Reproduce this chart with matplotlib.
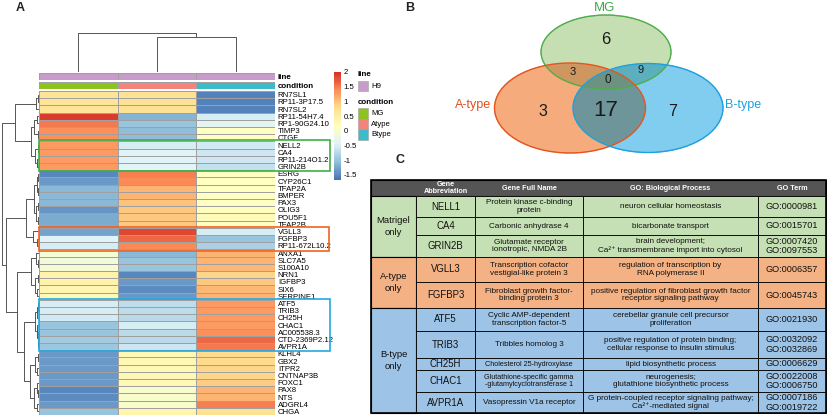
import matplotlib
matplotlib.use("Agg")
import matplotlib.pyplot as plt
import numpy as np
from matplotlib.colors import LinearSegmentedColormap, to_rgba
from matplotlib.patches import Ellipse, Rectangle

plt.rcParams["font.family"] = ["Liberation Sans", "DejaVu Sans"]

W, H = 827, 420

# ---------------- data: panel A (heatmap) ----------------
GENES = ["RN7SL1", "RP11-3P17.5", "RN7SL2", "RP11-54H7.4", "RP1-90G24.10", "TIMP3", "CTGF",
         "NELL2", "CA4", "RP11-214O1.2", "GRIN2B", "ESRG", "CYP26C1", "TFAP2A", "BMPER",
         "PAX3", "OLIG3", "POU5F1", "TFAP2B", "VGLL3", "FGFBP3", "RP11-672L10.2", "ANXA1",
         "SLC7A5", "S100A10", "NRN1", "IGFBP3", "SIX6", "SERPINE1", "ATF5", "TRIB3", "CH25H",
         "CHAC1", "AC005538.3", "CTD-2369P2.12", "AVPR1A", "KLHL4", "GBX2", "ITPR2",
         "CNTNAP3B", "FOXC1", "PAX8", "NTS", "ADGRL4", "CHGA"]
MG_Z = [0.7, 0.7, 0.7, 1.9, 1.5, 1.35, 1.35, 1.3, 1.3, 1.3, 1.3, -1.5, -1.35, -1.1, -1.1,
        -1.1, -1.4, -1.2, -1.2, -1.3, -0.45, -0.5, -0.05, -0.1, -0.05, 0.4, 0.4, 0.35, 0.25,
        -0.5, -0.5, -0.55, -1.0, -1.0, -0.9, -0.95, -1.35, -1.35, -1.35, -1.35, -1.35, -1.5,
        -1.45, -1.35, -1.0]
ATYPE_Z = [0.75, 0.75, 0.75, -1.15, -1.0, -1.05, -1.05, -0.5, -0.45, -0.45, -0.4, 1.45, 1.4,
           1.1, 1.1, 1.0, 0.95, 0.95, 0.95, 1.85, 1.6, 1.4, -1.1, -1.0, -1.0, -1.5, -1.35,
           -1.45, -1.35, -0.7, -0.7, -0.75, -0.5, -0.75, -0.75, -0.6, 0.3, 0.3, 0.3, 0.3, 0.3,
           0.0, 0.05, 0.05, 0.35]
BTYPE_Z = [-1.55, -1.55, -1.55, -0.5, -0.35, 0.15, 0.15, -0.55, -0.6, -0.6, -0.65, 0.15,
           0.15, 0.15, 0.15, 0.15, 0.2, 0.25, 0.15, -0.5, -1.0, -0.85, 1.1, 1.1, 1.05, 0.85,
           0.95, 1.05, 1.1, 1.3, 1.3, 1.3, 1.3, 1.35, 1.6, 1.5, 0.8, 0.8, 0.85, 0.85, 0.9, 1.1,
           1.1, 1.45, 0.75]
CONDITIONS = ["MG", "Atype", "Btype"]
CONDITION_COLORS = ["#8DC21F", "#F4837D", "#3CBCC8"]
LINE_NAME = "H9"
LINE_COLOR = "#C89BCB"

# dendrograms as (height, left, right); leaves are row / column indices
ROW_TREE = (1.0,
            (0.63,
             (0.08, (0.03, 0, 1), 2),
             (0.21,
              (0.13, (0.05, 3, 4), (0.04, 5, 6)),
              (0.10, (0.04, 7, 8), (0.05, 9, 10)))),
            (0.87,
             (0.34,
              (0.13, (0.06, (0.03, 11, 12), (0.04, 13, 14)),
               (0.07, (0.03, 15, 16), (0.04, 17, 18))),
              (0.16, 19, (0.05, 20, 21))),
             (0.60,
              (0.21, (0.08, 22, (0.04, 23, 24)), (0.10, (0.04, 25, 26), (0.05, 27, 28))),
              (0.39,
               (0.10, (0.05, (0.02, 29, 30), 31), (0.06, 32, (0.03, 33, (0.02, 34, 35)))),
               (0.24, (0.10, (0.04, 36, 37), (0.05, 38, 39)),
                (0.14, (0.06, 40, (0.03, 41, 42)), (0.05, 43, 44)))))))
COL_TREE = (1.0, 0, (0.9, 1, 2))

# ---------------- data: panel B (venn) ----------------
VENN_SETS = ["MG", "A-type", "B-type"]
VENN_COUNTS = {"MG": 6, "A": 3, "B": 7, "MG&A": 3, "MG&B": 9, "A&B": 17, "all": 0}

# ---------------- data: panel C (table) ----------------
TABLE_HEADER = ["", "Gene\nAbbreviation", "Gene Full Name", "GO: Biological Process", "GO Term"]
GROUPS = ["Matrigel\nonly", "A-type\nonly", "B-type\nonly"]
GROUP_SIZES = [3, 2, 5]
GENE_ABBR = ["NELL1", "CA4", "GRIN2B", "VGLL3", "FGFBP3", "ATF5", "TRIB3", "CH25H", "CHAC1",
             "AVPR1A"]
GENE_NAME = ["Protein kinase c-binding\nprotein", "Carbonic anhydrase 4",
             "Glutamate receptor\nionotropic, NMDA 2B",
             "Transcription cofactor\nvestigial-like protein 3",
             "Fibroblast growth factor-\nbinding protein 3",
             "Cyclic AMP-dependent\ntranscription factor-5", "Tribbles homolog 3",
             "Cholesterol 25-hydroxylase",
             "Glutathione-specific gamma\n-glutamylcyclotransferase 1",
             "Vasopressin V1a receptor"]
GO_PROCESS = ["neuron cellular homeostasis", "bicarbonate transport",
              "brain development;\nCa²⁺ transmembrane import into cytosol",
              "regulation of transcription by\nRNA polymerase II",
              "positive regulation of fibroblast growth factor\nreceptor signaling pathway",
              "cerebellar granule cell precursor\nproliferation",
              "positive regulation of protein binding;\ncellular response to insulin stimulus",
              "lipid biosynthetic process",
              "neurogenesis;\nglutathione biosynthetic process",
              "G protein-coupled receptor signaling pathway;\nCa²⁺-mediated signal"]
GO_TERM = ["GO:0000981", "GO:0015701", "GO:0007420\nGO:0097553", "GO:0006357", "GO:0045743",
           "GO:0021930", "GO:0032092\nGO:0032869", "GO:0006629", "GO:0022008\nGO:0006750",
           "GO:0007186\nGO:0019722"]
GROUP_COLORS = ["#C5E0B4", "#F4B183", "#9DC3E6"]


fig = plt.figure(figsize=(W / 100, H / 100), dpi=100)


def px_axes(x0, y0, x1, y1, **kw):
    return fig.add_axes([x0 / W, 1 - y1 / H, (x1 - x0) / W, (y1 - y0) / H], **kw)


def draw_tree(ax, node, horizontal):
    """Draw a nested (height, left, right) tree; return (leaf position, height)."""
    if isinstance(node, int):
        return node + 0.5, 0.0
    h, left, right = node
    p1, h1 = draw_tree(ax, left, horizontal)
    p2, h2 = draw_tree(ax, right, horizontal)
    xs = [h1, h, h, h2]
    ys = [p1, p1, p2, p2]
    if horizontal:
        ax.plot(xs, ys, color="#555555", lw=0.7)
    else:
        ax.plot(ys, xs, color="#555555", lw=0.7)
    return (p1 + p2) / 2, h


# ---- heatmap ----
pal = ["#4575B4", "#91BFDB", "#E0F3F8", "#FFFFBF", "#FEE090", "#FC8D59", "#D73027"]
cmap = LinearSegmentedColormap.from_list("pheat", pal, N=100)
vals = np.column_stack([MG_Z, ATYPE_Z, BTYPE_Z])

ax_hm = px_axes(39, 91, 275, 415)
mesh = ax_hm.pcolormesh(vals, cmap=cmap, vmin=-1.67, vmax=2.0, edgecolors="#a0a0a0", lw=0.4)
ax_hm.set_ylim(len(GENES), 0)
ax_hm.set_xlim(0, 3)
ax_hm.set_xticks([])
ax_hm.yaxis.tick_right()
ax_hm.set_yticks(np.arange(len(GENES)) + 0.5)
ax_hm.set_yticklabels(GENES, fontsize=5.6)
ax_hm.tick_params(axis="y", length=0, pad=2)
for s in ax_hm.spines.values():
    s.set_visible(False)

# annotation bars
ax_line = px_axes(39, 73, 275, 80)
ax_line.pcolormesh(np.zeros((1, 3)), cmap=LinearSegmentedColormap.from_list("l", [LINE_COLOR, LINE_COLOR]),
                   edgecolors="#a0a0a0", lw=0.4)
ax_cond = px_axes(39, 82, 275, 89)
ax_cond.pcolormesh(np.arange(3).reshape(1, 3),
                   cmap=LinearSegmentedColormap.from_list("c", CONDITION_COLORS, N=3),
                   edgecolors="#a0a0a0", lw=0.4)
for ax, lab in [(ax_line, "line"), (ax_cond, "condition")]:
    ax.set_xlim(0, 3)
    ax.set_xticks([])
    ax.yaxis.tick_right()
    ax.set_yticks([0.5])
    ax.set_yticklabels([lab], fontsize=5.8, fontweight="bold")
    ax.tick_params(axis="y", length=0, pad=2)
    for s in ax.spines.values():
        s.set_visible(False)

# dendrograms
ax_rd = px_axes(0, 91, 39, 415)
draw_tree(ax_rd, ROW_TREE, horizontal=True)
ax_rd.set_xlim(1.04, 0)
ax_rd.set_ylim(len(GENES), 0)
ax_rd.axis("off")

ax_cd = px_axes(39, 30, 275, 72)
draw_tree(ax_cd, COL_TREE, horizontal=False)
ax_cd.set_xlim(0, 3)
ax_cd.set_ylim(0, 1.077)
ax_cd.axis("off")

# colour bar
cax = px_axes(334, 72, 341, 180)
cb = fig.colorbar(mesh, cax=cax, ticks=[-1.5, -1, -0.5, 0, 0.5, 1, 1.5, 2])
cb.ax.set_yticklabels(["-1.5", "-1", "-0.5", "0", "0.5", "1", "1.5", "2"])
cb.ax.tick_params(labelsize=5.6, length=0, pad=2)
cb.outline.set_visible(False)

# ---- overlay in pixel coordinates ----
ov = fig.add_axes([0, 0, 1, 1], zorder=5)
ov.axis("off")
ov.patch.set_alpha(0)

# ---- Venn (region colours blended like the original) ----
ell = {"MG": (606, 52, 130, 74), "A": (570, 108, 151, 90), "B": (648, 108, 150, 89)}
region_colors = {"MG": "#C5DFB2", "A": "#F5AC7C", "B": "#80CDEF", "MG&A": "#CE9762",
                 "MG&B": "#5DB0BE", "A&B": "#6E979B", "all": "#6E9282"}
gx, gy = np.meshgrid(np.arange(420, 827, 0.5) + 0.25, np.arange(0, 175, 0.5) + 0.25)
inside = {k: ((gx - cx) / (w / 2)) ** 2 + ((gy - cy) / (h / 2)) ** 2 <= 1
          for k, (cx, cy, w, h) in ell.items()}
img = np.zeros(gx.shape + (4,))
masks = {"MG": inside["MG"] & ~inside["A"] & ~inside["B"],
         "A": inside["A"] & ~inside["MG"] & ~inside["B"],
         "B": inside["B"] & ~inside["MG"] & ~inside["A"],
         "MG&A": inside["MG"] & inside["A"] & ~inside["B"],
         "MG&B": inside["MG"] & inside["B"] & ~inside["A"],
         "A&B": inside["A"] & inside["B"] & ~inside["MG"],
         "all": inside["MG"] & inside["A"] & inside["B"]}
for k, m in masks.items():
    img[m] = to_rgba(region_colors[k])
ov.imshow(img, extent=(420, 827, 175, 0), origin="upper", interpolation="bilinear",
          aspect="auto", zorder=1)
ov.set_xlim(0, W)
ov.set_ylim(H, 0)
edge_colors = {"MG": "#4DAF4A", "A": "#E8541C", "B": "#1BA1E2"}
for k, (cx, cy, w, h) in ell.items():
    ov.add_patch(Ellipse((cx, cy), w, h, fill=False, ec=edge_colors[k], lw=1.0, zorder=2))
ov.text(605, 8, VENN_SETS[0], fontsize=9.5, color="#3DAA48", ha="center", va="center")
ov.text(473, 105, VENN_SETS[1], fontsize=9, color="#E0501E", ha="center", va="center")
ov.text(743, 105, VENN_SETS[2], fontsize=9, color="#1BA1E2", ha="center", va="center")
for key, (x, y, fs) in {"MG": (606, 39, 12), "A": (543, 111, 11.5), "B": (673, 112, 11.5),
                        "MG&A": (573, 72, 8), "MG&B": (641, 70, 8), "all": (608, 80, 8.5),
                        "A&B": (606, 110, 16)}.items():
    ov.text(x, y, str(VENN_COUNTS[key]), fontsize=fs, ha="center", va="center",
            color="#1a1a1a", zorder=3)

# legend for annotations
ov.text(358, 75, "line", fontsize=5.8, fontweight="bold", va="center")
ov.add_patch(Rectangle((358, 81), 10, 10, fc=LINE_COLOR, ec="#a0a0a0", lw=0.4))
ov.text(371, 86, LINE_NAME, fontsize=5.6, va="center")
ov.text(358, 102, "condition", fontsize=5.8, fontweight="bold", va="center")
for i, (c, col) in enumerate(zip(CONDITIONS, CONDITION_COLORS)):
    ov.add_patch(Rectangle((358, 108 + i * 10.7), 10, 10.7, fc=col, ec="#a0a0a0", lw=0.4))
    ov.text(371, 113.5 + i * 10.7, c, fontsize=5.6, va="center")

# highlight boxes
ov.add_patch(Rectangle((39, 140), 291, 31, fill=False, ec="#3CB043", lw=1.2))
ov.add_patch(Rectangle((39, 227), 290, 24, fill=False, ec="#F06423", lw=1.2))
ov.add_patch(Rectangle((38.5, 299), 291.5, 52, fill=False, ec="#25A9E0", lw=1.2))

# panel letters
ov.text(20, 8, "A", fontsize=9, fontweight="bold", ha="center", va="center", color="#222222")
ov.text(410, 8, "B", fontsize=9, fontweight="bold", ha="center", va="center", color="#222222")
ov.text(400, 160, "C", fontsize=9, fontweight="bold", ha="center", va="center", color="#222222")

# ---- table ----
col_edges = [371, 416, 475, 583, 758, 826]
row_edges = [196, 217, 235, 257, 282, 308, 331, 358, 370, 392, 413]
top = 180
ov.add_patch(Rectangle((col_edges[0], top), col_edges[-1] - col_edges[0], row_edges[0] - top,
                       fc="#555555", ec="black", lw=0.8))
for j, hdr in enumerate(TABLE_HEADER):
    cx = (col_edges[j] + col_edges[j + 1]) / 2
    ov.text(cx, (top + row_edges[0]) / 2, hdr, fontsize=5.2, fontweight="bold", color="white",
            ha="center", va="center", linespacing=1.0)

row_group = np.repeat(np.arange(len(GROUPS)), GROUP_SIZES)
start = 0
for g, (name, n) in enumerate(zip(GROUPS, GROUP_SIZES)):
    y0, y1 = row_edges[start], row_edges[start + n]
    ov.add_patch(Rectangle((col_edges[0], y0), col_edges[1] - col_edges[0], y1 - y0,
                           fc=GROUP_COLORS[g], ec="black", lw=0.8))
    ov.text((col_edges[0] + col_edges[1]) / 2, (y0 + y1) / 2, name, fontsize=6.8,
            ha="center", va="center", linespacing=1.3, color="#111111")
    start += n

for i in range(len(GENE_ABBR)):
    y0, y1 = row_edges[i], row_edges[i + 1]
    yc = (y0 + y1) / 2
    fc = GROUP_COLORS[row_group[i]]
    for j in range(1, 5):
        ov.add_patch(Rectangle((col_edges[j], y0), col_edges[j + 1] - col_edges[j], y1 - y0,
                               fc=fc, ec="black", lw=0.6))
    name_fs = 5.2 if GENE_ABBR[i] in ("CH25H", "CHAC1") else 5.9
    ov.text((col_edges[1] + col_edges[2]) / 2, yc, GENE_ABBR[i], fontsize=6.9,
            ha="center", va="center", color="#111111")
    ov.text((col_edges[2] + col_edges[3]) / 2, yc, GENE_NAME[i], fontsize=name_fs,
            ha="center", va="center", linespacing=1.1, color="#111111")
    ov.text((col_edges[3] + col_edges[4]) / 2, yc, GO_PROCESS[i], fontsize=5.9,
            ha="center", va="center", linespacing=1.15, color="#111111")
    ov.text((col_edges[4] + col_edges[5]) / 2, yc, GO_TERM[i], fontsize=6.6,
            ha="center", va="center", linespacing=1.1, color="#111111")

ov.add_patch(Rectangle((col_edges[0], top), col_edges[-1] - col_edges[0], row_edges[-1] - top,
                       fill=False, ec="black", lw=1.2))

fig.savefig("out.png", dpi=100)
